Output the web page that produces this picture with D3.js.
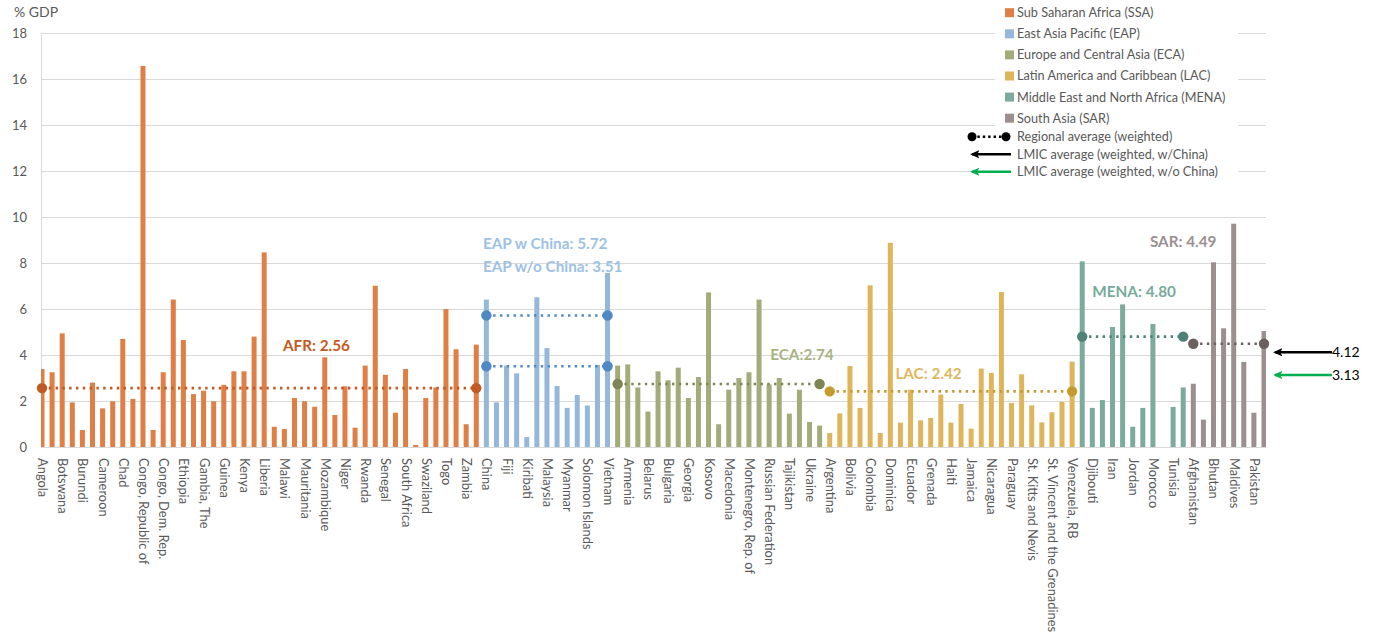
<!DOCTYPE html>
<html>
<head>
<meta charset="utf-8">
<script src="https://cdn.jsdelivr.net/npm/d3@7"></script>
<style>
  html, body { margin: 0; padding: 0; background: #fff; }
  svg { display: block; font-family: Lato, "Open Sans", sans-serif; }
</style>
</head>
<body>
<svg id="chart" width="1381" height="635"></svg>
<script>
// ---------------- DATA ----------------
const ssaCountries = ["Angola","Benin","Botswana","Burkina Faso","Burundi","Cabo Verde","Cameroon","Central African Republic","Chad","Comoros","Congo, Republic of","Côte d'Ivoire","Congo, Dem. Rep.","Eritrea","Ethiopia","Gabon","Gambia, The","Ghana","Guinea","Guinea-Bissau","Kenya","Lesotho","Liberia","Madagascar","Malawi","Mali","Mauritania","Mauritius","Mozambique","Namibia","Niger","Nigeria","Rwanda","São Tomé and Príncipe","Senegal","Sierra Leone","South Africa","Sudan","Swaziland","Tanzania","Togo","Uganda","Zambia","Zimbabwe"];
const ssaValues = [3.39,3.25,4.94,1.94,0.74,2.80,1.68,1.99,4.70,2.09,16.57,0.74,3.25,6.41,4.65,2.30,2.45,1.99,2.70,3.29,3.29,4.80,8.46,0.88,0.78,2.13,1.99,1.75,3.90,1.39,2.64,0.84,3.54,7.01,3.14,1.49,3.39,0.09,2.13,2.59,6.00,4.25,0.99,4.45];

const eapCountries = ["China","Cambodia","Fiji","Indonesia","Kiribati","Lao PDR","Malaysia","Mongolia","Myanmar","Philippines","Solomon Islands","Thailand","Vietnam"];
const eapValues = [6.41,1.94,3.54,3.20,0.43,6.51,4.30,2.65,1.70,2.26,1.80,3.57,7.57];

const ecaCountries = ["Albania","Armenia","Azerbaijan","Belarus","Bosnia and Herzegovina","Bulgaria","Croatia","Georgia","Kazakhstan","Kosovo","Kyrgyz Republic","Macedonia","Moldova","Montenegro, Rep. of","Romania","Russian Federation","Serbia","Tajikistan","Turkey","Ukraine","Uzbekistan"];
const ecaValues = [3.54,3.59,2.59,1.54,3.29,2.90,3.45,2.13,3.04,6.72,0.99,2.49,3.00,3.25,6.41,2.72,3.00,1.45,2.49,1.09,0.93];

const lacCountries = ["Argentina","Belize","Bolivia","Brazil","Colombia","Costa Rica","Dominica","Dominican Republic","Ecuador","El Salvador","Grenada","Guatemala","Haiti","Honduras","Jamaica","Mexico","Nicaragua","Panama","Paraguay","Peru","St. Kitts and Nevis","St. Lucia","St. Vincent and the Grenadines","Suriname","Venezuela, RB"];
const lacValues = [0.61,1.46,3.52,1.70,7.03,0.61,8.88,1.06,2.49,1.16,1.26,2.28,1.06,1.87,0.80,3.41,3.22,6.74,1.91,3.16,1.81,1.07,1.51,1.96,3.71];

const menaCountries = ["Algeria","Djibouti","Egypt","Iran","Iraq","Jordan","Lebanon","Morocco","Syria","Tunisia","Yemen"];
const menaValues = [8.07,1.70,2.04,5.22,6.20,0.88,1.70,5.35,null,1.74,2.59];

const sarCountries = ["Afghanistan","Bangladesh","Bhutan","India","Maldives","Nepal","Pakistan","Sri Lanka"];
const sarValues = [2.75,1.19,8.03,5.16,9.71,3.70,1.49,5.04];

const regionKeys = ["SSA","EAP","ECA","LAC","MENA","SAR"];
const regionNames = ["Sub Saharan Africa (SSA)","East Asia Pacific (EAP)","Europe and Central Asia (ECA)","Latin America and Caribbean (LAC)","Middle East and North Africa (MENA)","South Asia (SAR)"];
const regionBarColors = ["#df7f45","#94b7da","#a3ab7a","#dfb55b","#7cab9d","#9b8f8f"];
const regionDotColors = ["#c05a22","#4f88c2","#7c8553","#c59a2e","#4f8276","#6b5f5f"];
const regionLabelColors = ["#c45a1e","#9dc1e3","#a9b384","#e0b75c","#78ab9b","#9a9090"];

// regional averages (weighted)
const avgLabels = ["AFR: 2.56","EAP w China: 5.72","EAP w/o China: 3.51","ECA:2.74","LAC: 2.42","MENA: 4.80","SAR: 4.49"];
const avgValues = [2.56,5.72,3.51,2.74,2.42,4.80,4.49];
const avgRegion = ["SSA","EAP","EAP","ECA","LAC","MENA","SAR"];
// label anchor in data space: [category index, value]
const avgLabelAnchor = [[23.86,4.39],[43.66,8.86],[43.66,7.85],[72.1,4.01],[84.5,3.2],[104.0,6.74],[109.7,8.95]];

const lmicLabels = ["4.12","3.13"];
const lmicValues = [4.12,3.13];
const lmicColors = ["#000000","#00b050"];

const yTicks = [0,2,4,6,8,10,12,14,16,18];

const legendExtra = ["Regional average (weighted)","LMIC average (weighted, w/China)","LMIC average (weighted, w/o China)"];

// ---------------- BUILD ----------------
const groups = [
  [ssaCountries, ssaValues],
  [eapCountries, eapValues],
  [ecaCountries, ecaValues],
  [lacCountries, lacValues],
  [menaCountries, menaValues],
  [sarCountries, sarValues]
];
const rows = [];
const regionRange = {};
groups.forEach((g, gi) => {
  const start = rows.length;
  g[0].forEach((c, i) => rows.push({ name: c, value: g[1][i], region: regionKeys[gi], ri: gi, idx: rows.length }));
  regionRange[regionKeys[gi]] = [start, rows.length - 1];
});

const svg = d3.select("#chart");
const plotLeft = 41, plotRight = 1266, plotTop = 33, plotBottom = 447;

const x = d3.scalePoint().domain(rows.map(d => d.idx)).range([42, 1264]);
const y = d3.scaleLinear().domain([0, 18]).range([plotBottom, plotTop]);
const xAt = v => x(Math.round(v)) + (v - Math.round(v)) * x.step();

const defs = svg.append("defs");
defs.append("clipPath").attr("id", "plotclip")
  .append("rect").attr("x", plotLeft).attr("y", 0).attr("width", plotRight - plotLeft).attr("height", plotBottom + 1);

// gridlines
const yAxis = d3.axisLeft(y).tickValues(yTicks).tickSize(-(plotRight - plotLeft)).tickPadding(14);
const gy = svg.append("g").attr("transform", `translate(${plotLeft},0)`).call(yAxis);
gy.select(".domain").attr("stroke", "#d9d9d9");
gy.selectAll(".tick line").attr("stroke", "#d9d9d9").attr("stroke-width", 1);
gy.selectAll(".tick text").attr("fill", "#595959").attr("font-size", 13).attr("font-family", "Lato, sans-serif");

// y axis title
svg.append("text").attr("x", 14).attr("y", 17).attr("fill", "#595959").attr("font-size", 14).text("% GDP");

// bars
svg.append("g").attr("clip-path", "url(#plotclip)")
  .selectAll("rect").data(rows.filter(d => d.value != null)).join("rect")
  .attr("x", d => x(d.idx) - 2.5)
  .attr("width", 5)
  .attr("y", d => y(d.value))
  .attr("height", d => y(0) - y(d.value))
  .attr("fill", d => regionBarColors[d.ri]);

// x axis
const xAxis = d3.axisBottom(x).tickSize(0).tickPadding(0)
  .tickFormat(i => (i % 2 === 0 ? rows[i].name : ""));
const gx = svg.append("g").attr("transform", `translate(0,${plotBottom})`).call(xAxis);
gx.select(".domain").attr("stroke", "#d9d9d9").attr("d", `M${plotLeft},0.5H${plotRight}`);
gx.selectAll(".tick text")
  .attr("fill", "#595959").attr("font-size", 12.9).attr("font-family", "Lato, sans-serif")
  .attr("text-anchor", "start")
  .attr("transform", "translate(0,11) rotate(90)")
  .attr("x", 0).attr("y", 0).attr("dy", "0.35em");

// regional averages
const avgG = svg.append("g");
avgValues.forEach((v, k) => {
  const rk = avgRegion[k];
  const ri = regionKeys.indexOf(rk);
  const [a, b] = regionRange[rk];
  const x1 = x(a), x2 = x(b), yy = y(v);
  avgG.append("line").attr("x1", x1).attr("x2", x2).attr("y1", yy).attr("y2", yy)
    .attr("stroke", regionDotColors[ri]).attr("stroke-width", 2.6).attr("stroke-dasharray", "2.4 4.4");
  [x1, x2].forEach(cx => avgG.append("circle").attr("cx", cx).attr("cy", yy).attr("r", 5.2).attr("fill", regionDotColors[ri]));
  const anc = avgLabelAnchor[k];
  avgG.append("text").attr("x", xAt(anc[0]))
    .attr("y", y(anc[1])).attr("dy", "0.35em")
    .attr("fill", regionLabelColors[ri]).attr("font-size", 15.3).attr("font-weight", "bold")
    .text(avgLabels[k]);
});

// LMIC arrows
lmicColors.forEach((c, k) => {
  defs.append("marker").attr("id", "ah" + k).attr("viewBox", "0 0 10 10").attr("refX", 8).attr("refY", 5)
    .attr("markerWidth", 3.6).attr("markerHeight", 3.6).attr("orient", "auto")
    .append("path").attr("d", "M10,5 L0,0.5 L2.5,5 L0,9.5 Z").attr("fill", c);
});
lmicValues.forEach((v, k) => {
  const yy = y(v);
  svg.append("line").attr("x1", plotRight + 66).attr("x2", plotRight + 9).attr("y1", yy).attr("y2", yy)
    .attr("stroke", lmicColors[k]).attr("stroke-width", 2.6).attr("marker-end", "url(#ah" + k + ")");
  svg.append("text").attr("x", plotRight + 66).attr("y", yy).attr("dy", "0.35em")
    .attr("fill", "#000").attr("font-size", 14).text(lmicLabels[k]);
});

// legend
const lg = svg.append("g");
lg.append("rect").attr("x", 995).attr("y", 0).attr("width", 243).attr("height", 184).attr("fill", "#fff");
regionNames.forEach((n, i) => {
  const cy = 12.7 + i * 21.1;
  lg.append("rect").attr("x", 1005).attr("y", cy - 4.5).attr("width", 9).attr("height", 9).attr("fill", regionBarColors[i]);
  lg.append("text").attr("x", 1017).attr("y", cy).attr("dy", "0.35em").attr("fill", "#595959").attr("font-size", 12.7).text(n);
});
const extraY = [136.7, 154.3, 171.7];
// regional avg symbol
lg.append("line").attr("x1", 972).attr("x2", 1006).attr("y1", extraY[0]).attr("y2", extraY[0])
  .attr("stroke", "#000").attr("stroke-width", 2.6).attr("stroke-dasharray", "2.4 3");
[972, 1006].forEach(cx => lg.append("circle").attr("cx", cx).attr("cy", extraY[0]).attr("r", 4.5).attr("fill", "#000"));
[0, 1].forEach(k => {
  lg.append("line").attr("x1", 1011).attr("x2", 972).attr("y1", extraY[k + 1]).attr("y2", extraY[k + 1])
    .attr("stroke", lmicColors[k]).attr("stroke-width", 2.6).attr("marker-end", "url(#ah" + k + ")");
});
legendExtra.forEach((t, i) => {
  lg.append("text").attr("x", 1017).attr("y", extraY[i]).attr("dy", "0.35em").attr("fill", "#595959").attr("font-size", 12.7).text(t);
});
</script>
</body>
</html>
